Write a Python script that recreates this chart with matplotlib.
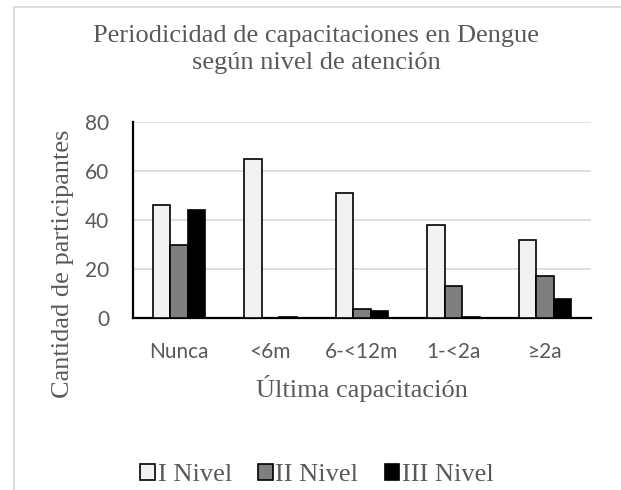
import numpy as np
import matplotlib.pyplot as plt
from matplotlib.patches import Rectangle

categorias = ["Nunca", "<6m", "6-<12m", "1-<2a", "≥2a"]
nivel_1 = [46, 65, 51, 38, 32]
nivel_2 = [30, 0, 3.7, 13, 17]
nivel_3 = [44, 0.5, 2.7, 0.5, 7.6]
series = ["I Nivel", "II Nivel", "III Nivel"]

gris = "#595959"
serif = "Liberation Serif"
sans = "Lato"

fig = plt.figure(figsize=(6.21, 4.90), dpi=100)
W, H = 621, 490
ax = fig.add_axes([133 / W, 1 - 318 / H, (591 - 133) / W, (318 - 122) / H])

# Marco del gráfico
fig.patches.append(Rectangle((14 / W, -0.1), 1.2, 1 - 7.5 / H + 0.1, transform=fig.transFigure,
                             fill=False, edgecolor="#d9d9d9", lw=1.2))

x = np.arange(len(categorias))
w = 0.19
ax.bar(x - w, nivel_1, w, color="#f2f2f2", edgecolor="black", lw=1.2, label=series[0], zorder=3)
ax.bar(x, nivel_2, w, color="#7f7f7f", edgecolor="black", lw=1.2, label=series[1], zorder=3)
ax.bar(x + w, nivel_3, w, color="black", edgecolor="black", lw=1.2, label=series[2], zorder=3)

ax.set_xlim(-0.5, len(categorias) - 0.5)
ax.set_ylim(0, 80)
ax.set_yticks([0, 20, 40, 60, 80])
ax.set_xticks(x)
ax.set_xticklabels(categorias)
ax.grid(axis="y", color="#d9d9d9", lw=1.2, zorder=0)
ax.set_axisbelow(True)
for s in ["top", "right"]:
    ax.spines[s].set_visible(False)
ax.spines["left"].set_linewidth(1.6)
ax.spines["bottom"].set_linewidth(1.6)
ax.tick_params(length=0, labelsize=15, labelcolor=gris)
ax.tick_params(axis="y", pad=17)
ax.tick_params(axis="x", pad=17)
for lab in ax.get_xticklabels() + ax.get_yticklabels():
    lab.set_family(sans)

fig.text(316 / W, 1 - 36 / H, "Periodicidad de capacitaciones en Dengue", ha="center", va="center",
         family=serif, fontsize=19, color=gris)
fig.text(316 / W, 1 - 63 / H, "según nivel de atención", ha="center", va="center",
         family=serif, fontsize=19, color=gris)
fig.text(63 / W, 1 - 264 / H, "Cantidad de participantes", rotation=90, ha="center", va="center",
         family=serif, fontsize=19, color=gris)
fig.text(362 / W, 1 - 388 / H, "Última capacitación", ha="center", va="center",
         family=serif, fontsize=19, color=gris)

leg = fig.legend(loc="center", bbox_to_anchor=(317 / W, 1 - 475 / H), ncol=3, frameon=False,
                 handlelength=0.55, handleheight=0.55, handletextpad=0.1, columnspacing=1.0,
                 prop={"family": serif, "size": 19})
for t in leg.get_texts():
    t.set_color(gris)

plt.savefig("out.png", dpi=100)
